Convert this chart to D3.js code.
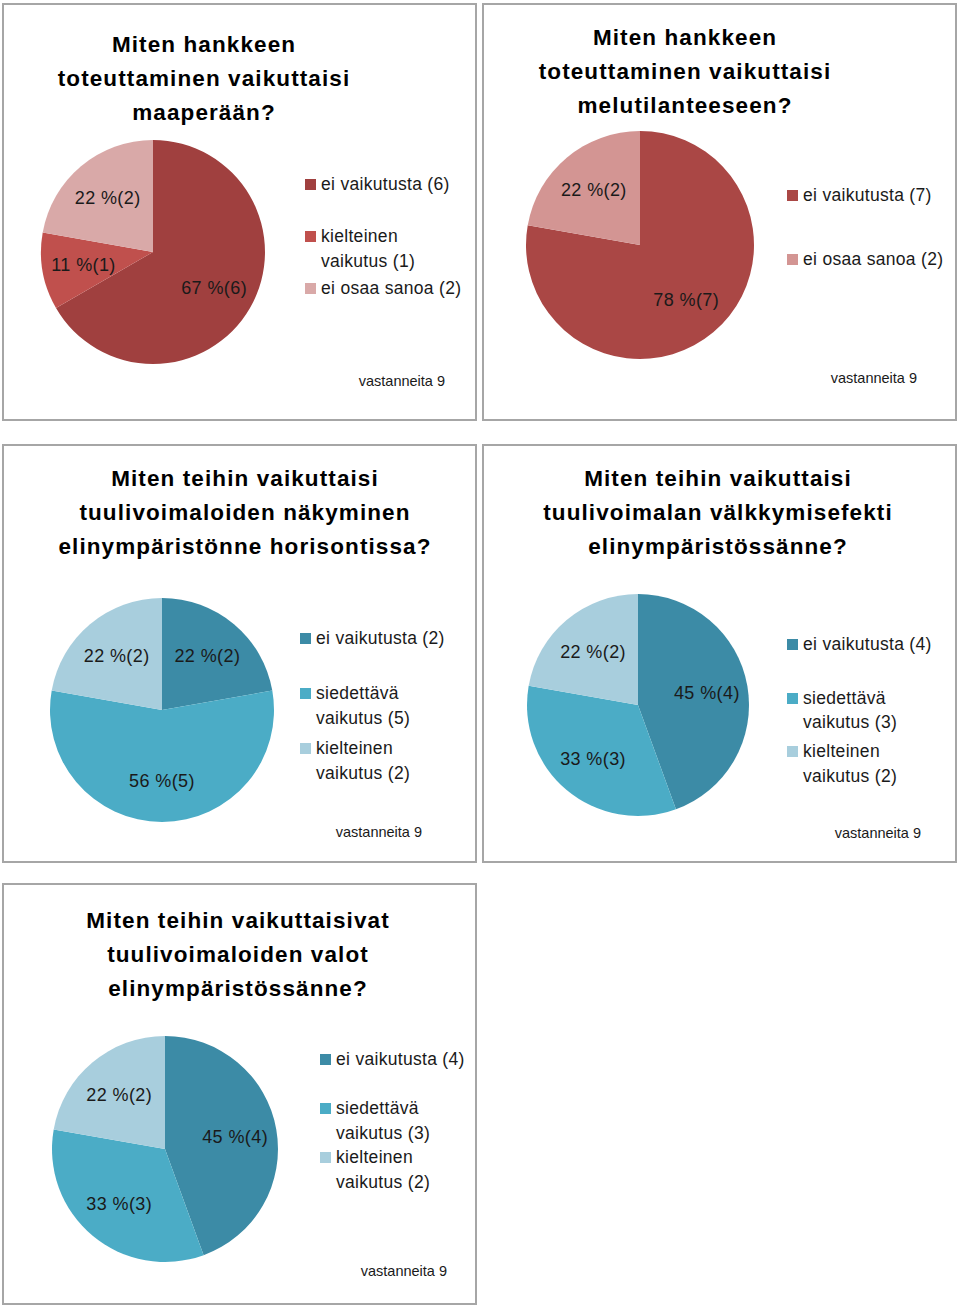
<!DOCTYPE html>
<html><head><meta charset="utf-8">
<script src="https://cdn.jsdelivr.net/npm/d3@7"></script>
<style>
body{margin:0;background:#fff;}
svg{display:block;font-family:"Liberation Sans",Arial,sans-serif;}
</style></head><body>
<svg id="c" width="960" height="1308"></svg>
<script>
// ---- data ----
const titles = [
  ["Miten hankkeen","toteuttaminen vaikuttaisi","maaperään?"],
  ["Miten hankkeen","toteuttaminen vaikuttaisi","melutilanteeseen?"],
  ["Miten teihin vaikuttaisi","tuulivoimaloiden näkyminen","elinympäristönne horisontissa?"],
  ["Miten teihin vaikuttaisi","tuulivoimalan välkkymisefekti","elinympäristössänne?"],
  ["Miten teihin vaikuttaisivat","tuulivoimaloiden valot","elinympäristössänne?"]
];
const categories1 = ["ei vaikutusta","kielteinen vaikutus","ei osaa sanoa"];
const values1 = [6,1,2];
const pct1 = ["67 %","11 %","22 %"];
const categories2 = ["ei vaikutusta","ei osaa sanoa"];
const values2 = [7,2];
const pct2 = ["78 %","22 %"];
const categoriesB = ["ei vaikutusta","siedettävä vaikutus","kielteinen vaikutus"];
const values3 = [2,5,2];
const pct3 = ["22 %","56 %","22 %"];
const values4 = [4,3,2];
const pct4 = ["45 %","33 %","22 %"];
const values5 = [4,3,2];
const pct5 = ["45 %","33 %","22 %"];
const respondents = [9,9,9,9,9];

const colors1 = ["#A0403F","#C0504D","#D9A9A8"];
const colors2 = ["#AA4745","#D39593"];
const colorsB = ["#3C8BA6","#4BACC6","#A8CEDD"];

// layout per panel
const panels = [
  {box:[3,4,473,416], cats:categories1, vals:values1, pct:pct1, col:colors1,
   titleX:204, titleY:44, pie:[153,252,112], legX:305, legLines:[[184],[236,261],[288]], footX:445, footY:381},
  {box:[483,4,473,416], cats:categories2, vals:values2, pct:pct2, col:colors2,
   titleX:685, titleY:37, pie:[640,245,114], legX:787, legLines:[[195],[259]], footX:917, footY:378},
  {box:[3,445,473,417], cats:categoriesB, vals:values3, pct:pct3, col:colorsB,
   titleX:245, titleY:478, pie:[162,710,112], legX:300, legLines:[[638],[693,718],[748,773]], footX:422, footY:832},
  {box:[483,445,473,417], cats:categoriesB, vals:values4, pct:pct4, col:colorsB,
   titleX:718, titleY:478, pie:[638,705,111], legX:787, legLines:[[644],[698,722],[751,776]], footX:921, footY:833},
  {box:[3,884,473,420], cats:categoriesB, vals:values5, pct:pct5, col:colorsB,
   titleX:238, titleY:920, pie:[165,1149,113], legX:320, legLines:[[1059],[1108,1133],[1157,1182]], footX:447, footY:1271}
];

const svg = d3.select("#c");
const pie = d3.pie().sort(null).value(d=>d);

panels.forEach((p,i)=>{
  const g = svg.append("g");
  g.append("rect").attr("x",p.box[0]).attr("y",p.box[1]).attr("width",p.box[2]).attr("height",p.box[3])
    .attr("fill","#fff").attr("stroke","#A6A6A6").attr("stroke-width",2);
  // title
  titles[i].forEach((t,k)=>{
    g.append("text").attr("x",p.titleX).attr("y",p.titleY+k*34).attr("dy","0.35em")
      .attr("text-anchor","middle").attr("font-weight","bold").attr("font-size",22.5)
      .attr("letter-spacing","1.1px").attr("fill","#000").text(t);
  });
  const [cx,cy,r] = p.pie;
  const arcs = pie(p.vals);
  const arc = d3.arc().innerRadius(0).outerRadius(r);
  const labArc = d3.arc().innerRadius(0).outerRadius(r*1.26);
  const pg = g.append("g").attr("transform",`translate(${cx},${cy})`);
  pg.selectAll("path").data(arcs).join("path").attr("d",arc).attr("fill",(d,j)=>p.col[j]);
  pg.selectAll("text").data(arcs).join("text")
    .attr("transform",d=>`translate(${labArc.centroid(d)})`)
    .attr("dy","0.35em")
    .attr("text-anchor","middle").attr("font-size",18).attr("letter-spacing","0.4px").attr("fill","#1a1a1a")
    .text((d,j)=>`${p.pct[j]}(${d.data})`);
  // legend
  p.cats.forEach((c,j)=>{
    const lines = p.legLines[j];
    g.append("rect").attr("x",p.legX).attr("y",lines[0]-5).attr("width",11).attr("height",11).attr("fill",p.col[j]);
    let words;
    if(lines.length===2){
      const parts = c.split(" ");
      words = [parts[0], parts.slice(1).join(" ")+" ("+p.vals[j]+")"];
    } else words = [c+" ("+p.vals[j]+")"];
    words.forEach((w,k)=>{
      g.append("text").attr("x",p.legX+16).attr("y",lines[k]).attr("dy","0.35em")
        .attr("font-size",17.5).attr("letter-spacing","0.3px").attr("fill","#1a1a1a").text(w);
    });
  });
  g.append("text").attr("x",p.footX).attr("y",p.footY).attr("dy","0.35em").attr("text-anchor","end")
    .attr("font-size",14.5).attr("fill","#1a1a1a").text("vastanneita "+respondents[i]);
});
</script>
</body></html>
